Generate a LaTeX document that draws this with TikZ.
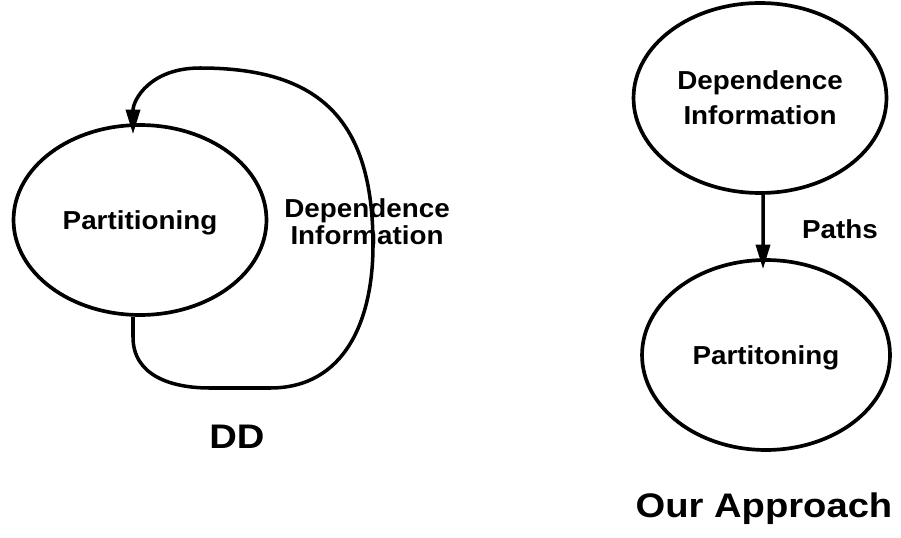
\documentclass[tikz,border=0pt]{standalone}
\usepackage{fontspec}
\usetikzlibrary{shapes.geometric,arrows.meta}
\newfontfamily\lblfont{Liberation Sans Bold}[FakeStretch=1.07]
\newfontfamily\ttlfont{Liberation Sans Bold}[FakeStretch=1.12]
\begin{document}
\begin{tikzpicture}[x=0.02cm,y=-0.02cm,
  stage/.style={ellipse,draw,line width=2.1pt,inner sep=0pt,
    minimum width=5.06cm,minimum height=3.8cm,align=center,
    font=\lblfont\fontsize{14.8}{19.9}\selectfont},
  lbl/.style={inner sep=0pt,align=center,font=\lblfont\fontsize{14.8}{15.4}\selectfont},
  ttl/.style={inner sep=0pt,anchor=base,font=\ttlfont\fontsize{19.4}{22}\selectfont},
  flow/.style={line width=2pt,-{Triangle[length=14pt,width=8pt]}}]
\useasboundingbox (0,0) rectangle (901,537);

% left: DD, partitioning with a feedback loop
\node[stage,text depth=0pt] (dpart) at (140,220) {Partitioning};
\node[lbl] (dinfo) at (367,221.5) {Dependence\\Information};
\node[ttl] (dd) at (237,448) {DD};
\draw[flow] ([xshift=-0.14cm]dpart.south) -- (133,337)
  .. controls (133,375) and (170,388) .. (210,388) -- (270,388)
  .. controls (345,388) and (373,320) .. (373,245)
  .. controls (373,120) and (320,68) .. (200,68)
  .. controls (150,68) and (133,100) .. ([xshift=-0.14cm,yshift=-0.22cm]dpart.north);

% right: our approach, dependence information feeding partitioning
\node[stage] (oinfo) at (760,98) {Dependence\\Information};
\node[stage,minimum width=4.96cm,text depth=0pt] (opart) at (766,355) {Partitoning};
\draw[flow] ([xshift=0.06cm]oinfo.south) -- ([xshift=-0.06cm,yshift=-0.22cm]opart.north);
\node[lbl,anchor=base] (paths) at (840,238) {Paths};
\node[ttl] (ours) at (764,517) {Our Approach};
\end{tikzpicture}
\end{document}
